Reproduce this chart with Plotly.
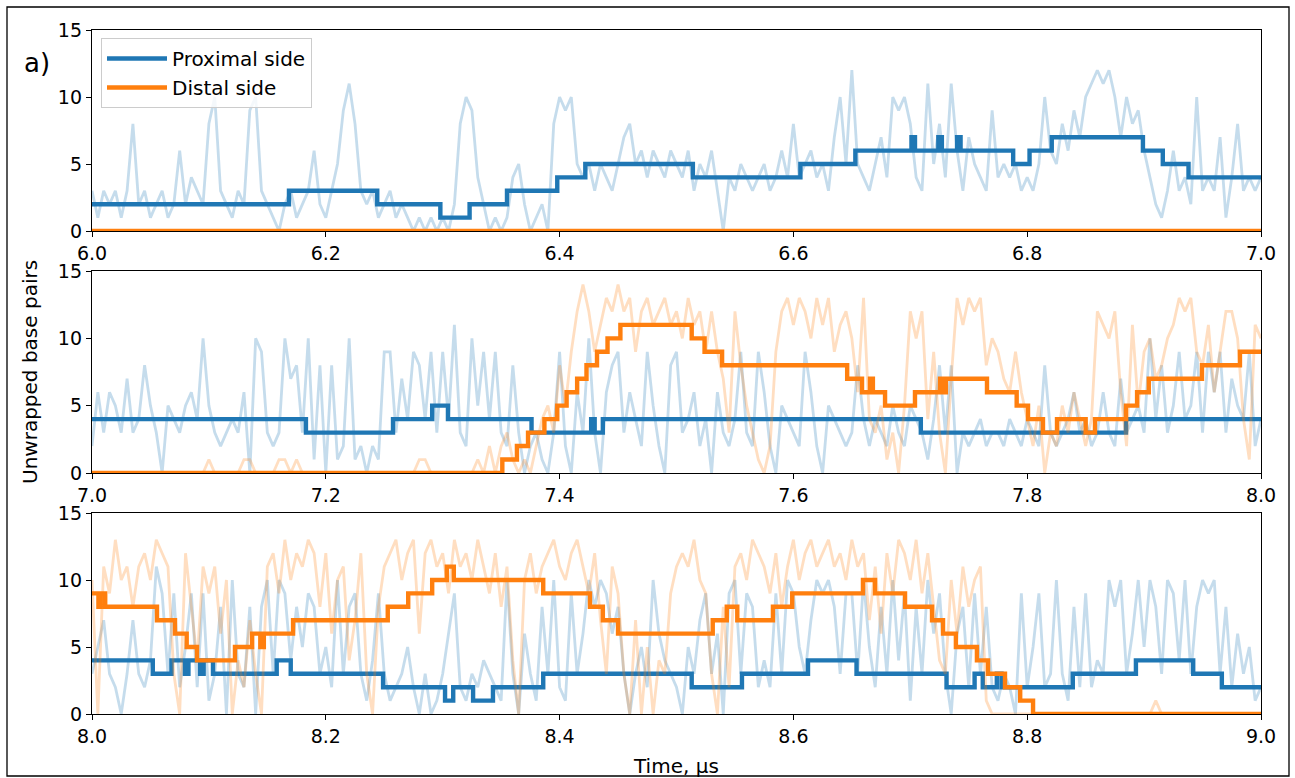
import plotly.graph_objects as go

# ---------------- data ----------------
DT = 0.005  # sampling interval of raw traces (us)
panel_starts = [6.0, 7.0, 8.0]

p1_prox_raw = [3,1,3,2,3,1,3,8,2,3,
               1,2,3,1,2,6,2,4,3,2,
               8,10,3,2,1,3,2,9,10,3,
               2,1,0,2,3,1,2,3,6,2,
               1,3,5,9,11,8,3,2,3,1,
               2,3,1,2,1,0,1,0,1,0,
               1,0,2,8,10,9,4,2,0,1,
               0,1,4,5,2,0,1,2,0,8,
               10,9,10,5,4,5,3,5,4,3,
               5,7,8,5,6,4,6,5,4,6,
               5,4,6,3,5,4,6,3,0,4,
               3,5,4,3,4,5,3,4,6,4,
               8,4,5,6,4,5,3,7,10,5,
               12,5,4,3,5,7,4,10,9,10,
               8,4,3,11,5,8,4,11,6,3,
               7,5,4,3,9,4,5,4,5,3,
               4,3,5,10,6,5,8,6,9,7,
               10,11,12,11,12,10,7,10,8,9,
               6,4,2,1,3,6,3,4,2,10,
               3,4,3,7,1,4,8,3,4,3,
               4]

p2_prox_raw = [2,6,3,6,5,3,7,3,4,8,
               5,3,0,5,4,3,5,6,4,10,
               5,3,2,3,4,3,6,0,10,9,
               3,2,3,10,7,8,3,10,1,8,
               0,8,1,2,10,1,2,0,2,1,
               9,9,3,7,4,9,8,4,9,3,
               9,4,11,3,2,10,5,9,4,9,
               3,2,8,3,0,2,3,1,0,3,
               9,2,0,6,3,10,3,0,6,8,
               9,3,6,4,2,9,5,2,0,8,
               9,3,4,6,2,4,0,6,3,2,
               4,9,3,2,9,6,2,0,5,4,
               3,2,9,6,2,0,5,4,3,2,
               3,8,4,2,4,3,2,5,3,2,
               5,4,3,1,4,8,3,8,0,3,
               2,3,4,2,3,3,2,4,3,2,
               4,3,2,8,3,2,3,4,6,3,
               4,2,3,6,3,2,7,3,4,5,
               3,10,4,8,3,5,9,4,5,9,
               3,9,6,9,3,7,5,4,9,2,
               4]

p2_dist_raw = [0,0,0,0,0,0,0,0,0,0,
               0,0,0,0,0,0,0,0,0,0,
               1,0,0,0,0,0,1,1,0,0,
               0,0,1,1,0,1,0,0,0,0,
               0,0,0,0,0,0,0,0,0,0,
               0,0,0,0,0,0,1,1,0,0,
               0,0,0,0,0,0,1,0,2,0,
               2,3,1,0,1,0,2,4,5,3,
               8,5,9,12,14,12,9,11,13,12,
               14,12,13,9,12,13,11,12,13,11,
               12,10,13,11,12,9,12,9,7,3,
               12,8,5,3,1,0,2,9,12,13,
               11,13,12,10,13,11,13,9,11,12,
               10,6,13,4,3,5,1,3,0,5,
               12,10,12,4,9,3,0,7,13,11,
               13,12,13,8,10,9,7,6,9,6,
               4,2,5,0,3,2,5,3,6,4,
               2,4,12,11,10,12,6,2,11,5,
               9,10,7,8,10,11,13,12,13,9,
               8,11,6,9,12,12,10,4,1,11,
               10]

p3_prox_raw = [3,5,7,3,2,0,3,7,3,2,
               4,11,9,3,9,2,5,9,2,9,
               1,3,8,0,10,3,2,8,0,8,
               10,3,10,9,4,8,5,9,8,3,
               5,2,10,3,8,9,3,1,4,9,
               3,1,2,3,5,2,0,3,0,1,
               3,6,9,2,1,3,2,4,3,2,
               1,10,3,0,6,3,1,8,3,10,
               2,1,9,3,6,10,8,10,9,6,
               8,3,0,3,5,2,10,6,4,3,
               2,0,5,3,7,9,3,6,0,9,
               10,3,9,8,2,4,2,9,3,10,
               9,5,3,7,10,9,10,8,3,9,
               9,3,10,5,2,8,3,10,4,9,
               1,8,3,10,6,9,3,0,6,8,
               2,9,3,8,2,1,3,2,0,9,
               2,5,9,2,3,10,3,1,8,2,
               9,2,4,3,10,8,10,3,6,10,
               5,10,8,3,10,9,4,10,3,8,
               10,9,10,3,8,2,6,3,5,1,
               2]

p3_dist_raw = [10,0,11,9,13,10,11,8,11,12,
               10,13,12,11,3,0,12,8,4,11,
               9,11,6,10,0,4,2,7,3,0,
               11,12,9,13,10,12,11,13,12,8,
               12,6,10,11,4,7,12,3,0,8,
               11,12,13,10,12,13,6,12,13,11,
               12,9,13,11,12,10,13,11,9,12,
               8,11,4,0,10,12,9,11,12,13,
               11,10,12,13,11,9,12,7,3,11,
               9,3,0,7,0,5,0,4,3,9,
               11,12,11,13,10,9,3,0,8,2,
               11,12,10,13,12,11,9,12,8,11,
               13,10,12,13,11,12,13,11,12,10,
               13,11,12,7,11,6,12,9,13,12,
               10,13,9,12,8,4,3,10,6,11,
               8,10,11,1,0,0,0,0,0,0,
               0,0,0,0,0,0,0,0,0,0,
               0,0,0,0,0,0,0,0,0,0,
               0,0,1,0,0,0,0,0,0,0,
               0,0,0,0,0,0,0,0,0,0,
               0]

# smoothed (step) states: change times and levels
p1_prox_step_t = [6.0, 6.1685, 6.244, 6.298, 6.323, 6.355, 6.398, 6.422, 6.514, 6.606,
                  6.653, 6.701, 6.704, 6.724, 6.727, 6.740, 6.743, 6.788, 6.802, 6.821,
                  6.899, 6.916, 6.938, 7.0]
p1_prox_step_v = [2, 3, 2, 1, 2, 3, 4, 5, 4, 5, 6, 7, 6, 7, 6, 7, 6, 5, 6, 7, 6, 5, 4, 4]
p1_dist_step_t = [6.0, 7.0]
p1_dist_step_v = [0, 0]

p2_prox_step_t = [7.0, 7.183, 7.2575, 7.291, 7.3045, 7.376, 7.427, 7.430, 7.437, 7.709, 7.8845, 8.0]
p2_prox_step_v = [4, 3, 4, 5, 4, 3, 4, 3, 4, 3, 4, 4]
p2_dist_step_t = [7.0, 7.351, 7.3635, 7.373, 7.387, 7.398, 7.406, 7.415, 7.423, 7.432,
                  7.441, 7.452, 7.513, 7.524, 7.539, 7.646, 7.6587, 7.6655, 7.668, 7.6784,
                  7.704, 7.7254, 7.728, 7.7305, 7.7656, 7.791, 7.8007, 7.8135, 7.8255, 7.850,
                  7.858, 7.8845, 7.894, 7.904, 7.9495, 7.982, 8.0]
p2_dist_step_v = [0, 1, 2, 3, 4, 5, 6, 7, 8, 9, 10, 11, 10, 9, 8, 7, 6, 7, 6, 5,
                  6, 7, 6, 7, 6, 5, 4, 3, 4, 3, 4, 5, 6, 7, 8, 9, 9]

p3_prox_step_t = [8.0, 8.052, 8.068, 8.0795, 8.0825, 8.0925, 8.0955, 8.1035, 8.158, 8.170,
                  8.249, 8.302, 8.309, 8.326, 8.343, 8.386, 8.513, 8.556, 8.6125, 8.654,
                  8.731, 8.755, 8.762, 8.774, 8.778, 8.839, 8.893, 8.942, 8.9665, 9.0]
p3_prox_step_v = [4, 3, 4, 3, 4, 3, 4, 3, 4, 3, 2, 1, 2, 1, 2, 3, 2, 3, 4, 3,
                  2, 3, 2, 3, 2, 3, 4, 3, 2, 2]
p3_dist_step_t = [8.0, 8.0055, 8.0075, 8.0113, 8.0556, 8.071, 8.081, 8.0898, 8.1223, 8.137,
                  8.144, 8.147, 8.172, 8.253, 8.2705, 8.291, 8.3035, 8.3095, 8.386, 8.426,
                  8.437, 8.450, 8.531, 8.543, 8.552, 8.5825, 8.599, 8.6595, 8.6698, 8.6955,
                  8.7186, 8.728, 8.739, 8.757, 8.7665, 8.781, 8.794, 8.805, 9.0]
p3_dist_step_v = [9, 8, 9, 8, 7, 6, 5, 4, 5, 6, 5, 6, 7, 8, 9, 10, 11, 10, 9, 8,
                  7, 6, 7, 8, 7, 8, 9, 10, 9, 8, 7, 6, 5, 4, 3, 2, 1, 0, 0]

y_ticks = [0, 5, 10, 15]
labels = ["Proximal side", "Distal side"]

# ---------------- styling ----------------
BLUE = "#1f77b4"
ORANGE = "#ff7f0e"
BLUE_RAW = "rgba(31,119,180,0.26)"
ORANGE_RAW = "rgba(255,127,14,0.26)"
FONT = "DejaVu Sans"

W, H = 1295, 778
L, R, T, B = 92, 34, 30, 64
PW = W - L - R
PH = H - T - B
panel_px = [(30, 231), (271, 473), (513, 714)]


def ydom(top, bot):
    return [(H - B - bot) / PH, (H - B - top) / PH]


def px_x(x):
    return (x - L) / PW


def px_y(y):
    return (H - B - y) / PH


def times(start, n):
    return [start + i * DT for i in range(n)]


fig = go.Figure()

panels = [
    (p1_prox_raw, None, (p1_prox_step_t, p1_prox_step_v), (p1_dist_step_t, p1_dist_step_v)),
    (p2_prox_raw, p2_dist_raw, (p2_prox_step_t, p2_prox_step_v), (p2_dist_step_t, p2_dist_step_v)),
    (p3_prox_raw, p3_dist_raw, (p3_prox_step_t, p3_prox_step_v), (p3_dist_step_t, p3_dist_step_v)),
]

for k, (praw, draw, pstep, dstep) in enumerate(panels):
    xa = "x" if k == 0 else f"x{k+1}"
    ya = "y" if k == 0 else f"y{k+1}"
    st = panel_starts[k]
    fig.add_trace(go.Scatter(x=times(st, len(praw)), y=praw, mode="lines",
                             line=dict(color=BLUE_RAW, width=2.8),
                             showlegend=False, hoverinfo="skip", xaxis=xa, yaxis=ya))
    fig.add_trace(go.Scatter(x=pstep[0], y=pstep[1], mode="lines", line_shape="hv",
                             line=dict(color=BLUE, width=4.4),
                             name=labels[0], showlegend=(k == 0), xaxis=xa, yaxis=ya))
    if draw is not None:
        fig.add_trace(go.Scatter(x=times(st, len(draw)), y=draw, mode="lines",
                                 line=dict(color=ORANGE_RAW, width=2.8),
                                 showlegend=False, hoverinfo="skip", xaxis=xa, yaxis=ya))
    fig.add_trace(go.Scatter(x=dstep[0], y=dstep[1], mode="lines", line_shape="hv",
                             line=dict(color=ORANGE, width=4.4),
                             name=labels[1], showlegend=(k == 0), xaxis=xa, yaxis=ya))

axis_common = dict(showline=True, linecolor="black", linewidth=1.3, mirror=True,
                   ticks="outside", ticklen=5, tickwidth=1.3, tickcolor="black",
                   showgrid=False, zeroline=False,
                   tickfont=dict(family=FONT, size=19, color="black"))

layout = dict(width=W, height=H, margin=dict(l=L, r=R, t=T, b=B),
              paper_bgcolor="white", plot_bgcolor="white",
              font=dict(family=FONT, size=19, color="black"),
              showlegend=True,
              legend=dict(x=px_x(101), y=px_y(38),
                          xanchor="left", yanchor="top",
                          bgcolor="rgba(255,255,255,0.8)", bordercolor="#cccccc", borderwidth=1,
                          font=dict(family=FONT, size=20, color="black"),
                          itemwidth=60, tracegroupgap=6))

for k in range(3):
    st = panel_starts[k]
    xkey = "xaxis" if k == 0 else f"xaxis{k+1}"
    ykey = "yaxis" if k == 0 else f"yaxis{k+1}"
    ya = "y" if k == 0 else f"y{k+1}"
    xa = "x" if k == 0 else f"x{k+1}"
    layout[xkey] = dict(axis_common, domain=[0, 1], range=[st, st + 1.0], anchor=ya,
                        tickvals=[st + 0.2 * j for j in range(6)],
                        ticktext=[f"{st + 0.2 * j:.1f}" for j in range(6)])
    layout[ykey] = dict(axis_common, domain=ydom(*panel_px[k]), range=[0, 15], anchor=xa,
                        tickvals=y_ticks, ticktext=[str(v) for v in y_ticks])

fig.update_layout(**layout)

# outer frame
fig.add_shape(type="rect", xref="paper", yref="paper",
              x0=px_x(7), x1=px_x(1289), y0=px_y(776), y1=px_y(7),
              line=dict(color="black", width=1.3), fillcolor="rgba(0,0,0,0)", layer="above")

# panel label and axis titles
fig.add_annotation(text="a)", xref="paper", yref="paper", x=px_x(37), y=px_y(63),
                   xanchor="center", yanchor="middle",
                   showarrow=False, font=dict(family=FONT, size=26, color="black"))
fig.add_annotation(text="Unwrapped base pairs", xref="paper", yref="paper",
                   x=px_x(30), y=px_y(372), xanchor="center", yanchor="middle", textangle=-90,
                   showarrow=False, font=dict(family=FONT, size=20, color="black"))
fig.add_annotation(text="Time, μs", xref="paper", yref="paper",
                   x=px_x(676), y=px_y(766), xanchor="center", yanchor="middle",
                   showarrow=False, font=dict(family=FONT, size=20, color="black"))

fig.write_html("out.html")
